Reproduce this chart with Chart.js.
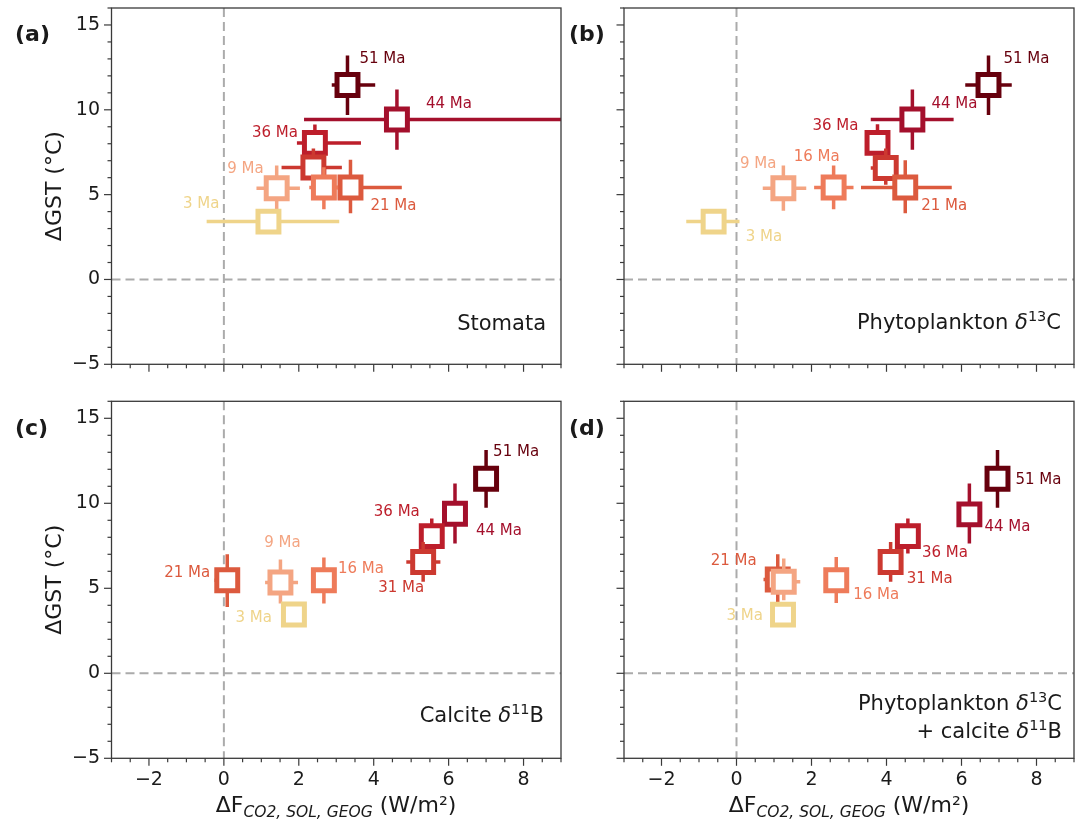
<!DOCTYPE html>
<html>
<head>
<meta charset="utf-8">
<script src="https://cdn.jsdelivr.net/npm/chart.js@4.4.1/dist/chart.umd.min.js"></script>
<style>
  html, body { margin: 0; padding: 0; background: #fff; }
  body { width: 1080px; height: 820px; position: relative; overflow: hidden;
         font-family: "DejaVu Sans", sans-serif; color: #1a1a1a; }
  .panel { position: absolute; }
  .panel canvas { display: block; }
  .tag { position: absolute; font-weight: bold; font-size: 22px; line-height: 22px; }
  .note { position: absolute; font-size: 21px; line-height: 28px; text-align: right; white-space: nowrap; }
  .xtitle { position: absolute; font-size: 22px; line-height: 26px; white-space: nowrap; transform: translateX(-50%); }
  .xtitle sub { font-size: 15.5px; font-style: italic; vertical-align: -5px; line-height: 0; }
  .note sup { font-size: 14.5px; vertical-align: 8px; line-height: 0; }
  .d { font-style: italic; }
</style>
</head>
<body>

<script>
// ages and colours (youngest first)
const ages = ['3 Ma', '9 Ma', '16 Ma', '21 Ma', '31 Ma', '36 Ma', '44 Ma', '51 Ma'];
const ageColors = ['#efd48a', '#f4a582', '#ee7b5a', '#dc5a3e', '#cc3930', '#bd1e2b', '#a4102c', '#67000d'];

// tick labels
const xTickLabels = [-2, 0, 2, 4, 6, 8];
const yTickLabels = [-5, 0, 5, 10, 15];

// (a) Stomata
const stomataX   = [1.19, 1.41, 2.67, 3.38, 2.39, 2.43, 4.62, 3.30];
const stomataY   = [3.41, 5.38, 5.42, 5.42, 6.60, 8.05, 9.43, 11.46];
const stomataXLo = [-0.46, 0.87, 2.28, 2.90, 1.54, 1.95, 2.14, 2.88];
const stomataXHi = [3.08, 2.03, 3.05, 4.75, 3.15, 3.66, 12.0, 4.04];
const stomataYLo = [3.41, 4.10, 4.14, 3.90, 5.40, 7.04, 7.65, 9.70];
const stomataYHi = [3.41, 6.72, 6.62, 7.06, 7.72, 9.13, 11.20, 13.20];

// (b) Phytoplankton d13C
const phytoX   = [-0.61, 1.25, 2.59, 4.50, 3.98, 3.76, 4.69, 6.72];
const phytoY   = [3.41, 5.38, 5.42, 5.42, 6.57, 8.05, 9.43, 11.46];
const phytoXLo = [-1.34, 0.70, 2.07, 3.32, 3.58, 3.45, 3.58, 6.10];
const phytoXHi = [0.08, 1.86, 3.12, 5.74, 4.30, 4.05, 5.79, 7.34];
const phytoYLo = [3.41, 4.05, 4.14, 3.90, 5.58, 7.04, 7.65, 9.70];
const phytoYHi = [3.41, 6.72, 6.72, 7.02, 7.72, 9.15, 11.20, 13.20];

// (c) Calcite d11B
const boronX   = [1.87, 1.51, 2.67, 0.09, 5.32, 5.55, 6.17, 7.00];
const boronY   = [3.46, 5.34, 5.47, 5.47, 6.55, 8.07, 9.38, 11.44];
const boronXLo = [1.87, 1.10, 2.67, -0.25, 4.87, 5.55, 6.17, 7.00];
const boronXHi = [1.87, 1.98, 2.67, 0.43, 5.78, 5.55, 6.17, 7.00];
const boronYLo = [3.46, 4.10, 4.11, 3.90, 5.38, 7.04, 7.63, 9.74];
const boronYHi = [3.46, 6.69, 6.81, 7.00, 7.72, 9.10, 11.16, 13.14];

// (d) Phytoplankton d13C + calcite d11B
const bothX   = [1.24, 1.26, 2.66, 1.10, 4.11, 4.57, 6.21, 6.96];
const bothY   = [3.45, 5.38, 5.47, 5.52, 6.55, 8.07, 9.35, 11.44];
const bothXLo = [1.24, 0.95, 2.66, 0.72, 4.11, 4.57, 6.21, 6.96];
const bothXHi = [1.24, 1.70, 2.66, 1.45, 4.11, 4.57, 6.21, 6.96];
const bothYLo = [3.45, 4.30, 4.13, 4.20, 5.38, 7.04, 7.63, 9.74];
const bothYHi = [3.45, 6.75, 6.84, 7.00, 7.72, 9.10, 11.16, 13.14];

// where each age label sits relative to its marker: [dx, dy, align] (null = no label)
const labelSpots = {
  a: [[-49, -18, 'right'], [-13, -19, 'right'], null, [20, 19, 'left'], null, [-17, -10, 'right'], [29, -15, 'left'], [12, -26, 'left']],
  b: [[32, 15, 'left'], [-7, -24, 'right'], [-17, -30, 'center'], [16, 19, 'left'], null, [-19, -17, 'right'], [19, -15, 'left'], [15, -26, 'left']],
  c: [[-22, 4, 'right'], [2, -39, 'center'], [14, -11, 'left'], [-17, -7, 'right'], [1, 26, 'right'], [-12, -24, 'right'], [21, 17, 'left'], [7, -27, 'left']],
  d: [[-20, 1, 'right'], null, [17, 15, 'left'], [-21, -18, 'right'], [16, 17, 'left'], [14, 17, 'left'], [15, 13, 'left'], [18, 1, 'left']]
};

const FONT = 'DejaVu Sans';
const INK = '#1a1a1a';
const SPINE = '#3a3a3a';
const minus = v => (v < 0 ? '\u2212' + Math.abs(v) : String(v));
const isMajor = (v, list) => list.some(t => Math.abs(t - v) < 1e-9);

// error bars drawn just before each dataset's marker
const errorBars = {
  id: 'errorBars',
  beforeDatasetDraw(chart, args) {
    const ds = chart.data.datasets[args.index];
    const { ctx, chartArea: a, scales: { x, y } } = chart;
    ctx.save();
    ctx.beginPath();
    ctx.rect(a.left, a.top, a.right - a.left, a.bottom - a.top);
    ctx.clip();
    ctx.strokeStyle = ds.borderColor;
    ctx.lineWidth = 3.5;
    ds.data.forEach(p => {
      const px = x.getPixelForValue(p.x), py = y.getPixelForValue(p.y);
      if (p.xMax > p.xMin) {
        ctx.beginPath();
        ctx.moveTo(x.getPixelForValue(p.xMin), py);
        ctx.lineTo(x.getPixelForValue(p.xMax), py);
        ctx.stroke();
      }
      if (p.yMax > p.yMin) {
        ctx.beginPath();
        ctx.moveTo(px, y.getPixelForValue(p.yMin));
        ctx.lineTo(px, y.getPixelForValue(p.yMax));
        ctx.stroke();
      }
    });
    ctx.restore();
  }
};

// zero lines, age labels, frame and ticks
const decor = {
  id: 'decor',
  beforeDatasetsDraw(chart) {
    const { ctx, chartArea: a, scales: { x, y } } = chart;
    ctx.save();
    ctx.strokeStyle = '#ababab';
    ctx.lineWidth = 2;
    ctx.setLineDash([9, 5]);
    const x0 = x.getPixelForValue(0), y0 = y.getPixelForValue(0);
    ctx.beginPath(); ctx.moveTo(x0, a.top); ctx.lineTo(x0, a.bottom); ctx.stroke();
    ctx.beginPath(); ctx.moveTo(a.left, y0); ctx.lineTo(a.right, y0); ctx.stroke();
    ctx.restore();
  },
  afterDatasetsDraw(chart, args, opts) {
    const { ctx, chartArea: a, scales: { x, y } } = chart;
    // age labels
    ctx.save();
    ctx.font = '15px "' + FONT + '"';
    ctx.textBaseline = 'middle';
    chart.data.datasets.forEach((ds, i) => {
      const spot = opts.spots[i];
      if (!spot) return;
      const p = ds.data[0];
      ctx.fillStyle = ds.borderColor;
      ctx.textAlign = spot[2];
      ctx.fillText(ds.label, x.getPixelForValue(p.x) + spot[0], y.getPixelForValue(p.y) + spot[1]);
    });
    ctx.restore();

    // frame
    ctx.save();
    ctx.strokeStyle = SPINE;
    ctx.lineWidth = 1.3;
    ctx.strokeRect(a.left, a.top, a.right - a.left, a.bottom - a.top);
    ctx.lineWidth = 1.2;
    x.ticks.forEach(t => {
      const px = x.getPixelForValue(t.value);
      const len = isMajor(t.value, xTickLabels) ? 7.5 : 4;
      ctx.beginPath(); ctx.moveTo(px, a.bottom); ctx.lineTo(px, a.bottom + len); ctx.stroke();
    });
    y.ticks.forEach(t => {
      const py = y.getPixelForValue(t.value);
      const len = isMajor(t.value, yTickLabels) ? 7.5 : 4;
      ctx.beginPath(); ctx.moveTo(a.left, py); ctx.lineTo(a.left - len, py); ctx.stroke();
    });
    ctx.restore();
  }
};

// box = canvas [left, top, width, height] on the page, area = wanted plot frame [left, top, right, bottom]
const panels = [
  { id: 'a', box: [0, -12, 595, 402], area: [111.5, 8, 561, 364.3], xLabels: false, yLabels: true,
    x: stomataX, y: stomataY, xLo: stomataXLo, xHi: stomataXHi, yLo: stomataYLo, yHi: stomataYHi },
  { id: 'b', box: [570, -12, 530, 402], area: [624, 8, 1074, 364.3], xLabels: false, yLabels: false,
    x: phytoX, y: phytoY, xLo: phytoXLo, xHi: phytoXHi, yLo: phytoYLo, yHi: phytoYHi },
  { id: 'c', box: [0, 380, 595, 440], area: [111.5, 401.3, 561, 758.3], xLabels: true, yLabels: true,
    x: boronX, y: boronY, xLo: boronXLo, xHi: boronXHi, yLo: boronYLo, yHi: boronYHi },
  { id: 'd', box: [570, 380, 530, 440], area: [624, 401.3, 1074, 758.3], xLabels: true, yLabels: false,
    x: bothX, y: bothY, xLo: bothXLo, xHi: bothXHi, yLo: bothYLo, yHi: bothYHi }
];

panels.forEach(p => {
  const [bl, bt, bw, bh] = p.box;
  const [al, at, ar, ab] = p.area;
  const wrap = document.createElement('div');
  wrap.className = 'panel';
  wrap.style.left = bl + 'px';
  wrap.style.top = bt + 'px';
  const canvas = document.createElement('canvas');
  canvas.width = bw;
  canvas.height = bh;
  canvas.style.width = bw + 'px';
  canvas.style.height = bh + 'px';
  wrap.appendChild(canvas);
  document.body.appendChild(wrap);

  const pad = { left: 0, top: at - bt, right: bl + bw - ar, bottom: 0 };

  const chart = new Chart(canvas, {
    type: 'scatter',
    data: {
      datasets: ages.map((age, i) => ({
        label: age,
        data: [{ x: p.x[i], y: p.y[i], xMin: p.xLo[i], xMax: p.xHi[i], yMin: p.yLo[i], yMax: p.yHi[i] }],
        borderColor: ageColors[i],
        backgroundColor: '#ffffff',
        pointStyle: 'rect',
        pointRadius: 14.8,
        pointHoverRadius: 14.8,
        borderWidth: 5
      }))
    },
    options: {
      responsive: false,
      animation: false,
      events: [],
      layout: { padding: pad },
      plugins: {
        legend: { display: false },
        tooltip: { enabled: false },
        decor: { spots: labelSpots[p.id] }
      },
      scales: {
        x: {
          type: 'linear', min: -3, max: 9,
          afterFit: s => { s.height = bt + bh - ab; },
          grid: { display: true, drawOnChartArea: false, drawTicks: true, tickLength: 7.5, tickColor: 'rgba(0,0,0,0)' },
          border: { display: false },
          ticks: {
            stepSize: 0.5, autoSkip: false, maxRotation: 0, padding: 3,
            color: INK, font: { family: FONT, size: 19 },
            callback: v => (p.xLabels && isMajor(v, xTickLabels) ? minus(v) : '')
          }
        },
        y: {
          type: 'linear', min: -5, max: 16,
          afterFit: s => { s.width = al - bl; },
          grid: { display: true, drawOnChartArea: false, drawTicks: true, tickLength: 7.5, tickColor: 'rgba(0,0,0,0)' },
          border: { display: false },
          title: {
            display: p.yLabels, text: 'ΔGST (°C)', color: INK,
            font: { family: FONT, size: 22 }, padding: { top: 42, bottom: 0 }
          },
          ticks: {
            stepSize: 1, autoSkip: false, padding: 4,
            color: INK, font: { family: FONT, size: 19 },
            callback: v => (p.yLabels && isMajor(v, yTickLabels) ? minus(v) : '')
          }
        }
      }
    },
    plugins: [errorBars, decor]
  });

  // nudge the layout padding until the plot frame lands where the reference has it
  for (let k = 0; k < 4; k++) {
    const a = chart.chartArea;
    const dt = (at - bt) - a.top, dr = (ar - bl) - a.right;
    const dl = (al - bl) - a.left, db = (ab - bt) - a.bottom;
    if (Math.abs(dt) + Math.abs(dr) + Math.abs(dl) + Math.abs(db) < 0.2) break;
    pad.top += dt; pad.right -= dr; pad.left += dl; pad.bottom -= db;
    chart.update();
  }
});
</script>

<div class="tag" style="left:15px; top:23px;">(a)</div>
<div class="tag" style="left:569px; top:23px;">(b)</div>
<div class="tag" style="left:15px; top:417px;">(c)</div>
<div class="tag" style="left:569px; top:417px;">(d)</div>

<div class="note" style="right:534px; top:309px;">Stomata</div>
<div class="note" style="right:19px; top:308px;">Phytoplankton <span class="d">δ</span><sup>13</sup>C</div>
<div class="note" style="right:536px; top:701px;">Calcite <span class="d">δ</span><sup>11</sup>B</div>
<div class="note" style="right:18px; top:689px;">Phytoplankton <span class="d">δ</span><sup>13</sup>C<br>+ calcite <span class="d">δ</span><sup>11</sup>B</div>

<div class="xtitle" style="left:336px; top:792px;">ΔF<sub>CO2, SOL, GEOG</sub> (W/m²)</div>
<div class="xtitle" style="left:849px; top:792px;">ΔF<sub>CO2, SOL, GEOG</sub> (W/m²)</div>
</body>
</html>
